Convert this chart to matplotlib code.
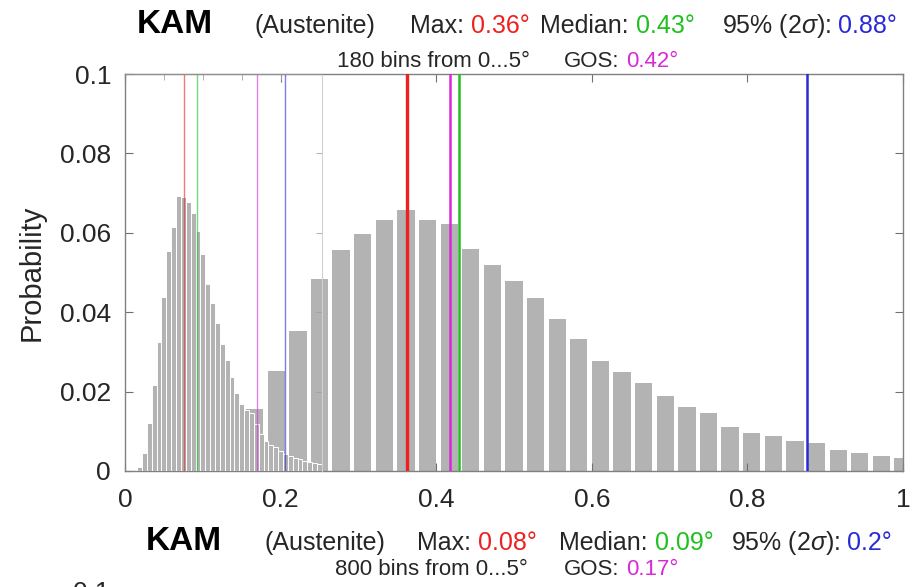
"""
KAM histogram (Austenite): 180-bin histogram with the 800-bin
histogram of the same map laid over its first 0.25 deg.
"""
import numpy as np
import matplotlib.pyplot as plt

# 180 bins from 0...5 deg, bin centres k*5/180
wide_k = np.arange(0, 37)
wide_prob = [0.0, 0.0, 0.0003, 0.0015, 0.004, 0.008, 0.0157, 0.0252, 0.0352,
             0.0484, 0.0557, 0.0597, 0.0631, 0.0657, 0.0631, 0.0621, 0.0558,
             0.0520, 0.0479, 0.0437, 0.0382, 0.0333, 0.0278, 0.0249, 0.0221,
             0.0190, 0.0160, 0.0145, 0.0112, 0.0095, 0.0088, 0.0076, 0.0071,
             0.0053, 0.0045, 0.0039, 0.0034]

# 800 bins from 0...5 deg, bin centres k*5/800 (only 0...0.25 is shown)
narrow_k = np.arange(3, 41)
narrow_prob = [0.0009, 0.0046, 0.0122, 0.0217, 0.0326, 0.0439, 0.0555, 0.0615,
               0.0693, 0.0689, 0.0678, 0.0649, 0.0605, 0.0547, 0.0470, 0.0424,
               0.0372, 0.0321, 0.0280, 0.0238, 0.0197, 0.0169, 0.0154, 0.0145,
               0.0118, 0.0093, 0.0075, 0.0065, 0.0060, 0.0050, 0.0044, 0.0038,
               0.0034, 0.0029, 0.0026, 0.0023, 0.0020, 0.0018]

# statistics markers: Max, GOS, Median, 95%
wide_stats = [0.362, 0.418, 0.429, 0.877]
narrow_stats = [0.076, 0.170, 0.092, 0.206]
stat_colors = ['#ee2020', '#d62ad6', '#20c020', '#2a2ad8']

# title texts: Max, Median, 95%, GOS
wide_vals = ['0.36°', '0.43°', '0.88°', '0.42°']
narrow_vals = ['0.08°', '0.09°', '0.2°', '0.17°']

# Set up fonts
plt.rcParams['font.family'] = ['Liberation Sans', 'DejaVu Sans']
plt.rcParams['mathtext.fontset'] = 'custom'
plt.rcParams['mathtext.rm'] = 'Liberation Sans'
plt.rcParams['mathtext.it'] = 'Liberation Sans:italic'

W, H = 914, 587
fig = plt.figure(figsize=(W / 100, H / 100), dpi=100, facecolor='white')
ax = fig.add_axes([125 / W, 1 - 471 / H, 778 / W, 397 / H])

bar_col = '#b3b3b3'
bw = 5 / 180
ax.bar(wide_k * bw, wide_prob, width=0.8 * bw, color=bar_col, zorder=1)
for x, c, lw in zip(wide_stats, stat_colors, [2.4, 1.8, 1.8, 1.8]):
    ax.axvline(x, color=c, lw=lw, zorder=3)

ax.set_xlim(0, 1)
ax.set_ylim(0, 0.1)
ax.set_xticks([0, 0.2, 0.4, 0.6, 0.8, 1])
ax.set_xticklabels(['0', '0.2', '0.4', '0.6', '0.8', '1'])
ax.set_yticks([0, 0.02, 0.04, 0.06, 0.08, 0.1])
ax.set_yticklabels(['0', '0.02', '0.04', '0.06', '0.08', '0.1'])
ax.tick_params(direction='in', top=True, right=True, length=6, width=0.8,
               color='#707070', labelcolor='#262626', labelsize=19, pad=12)
ax.tick_params(axis='y', pad=10)
for s in ax.spines.values():
    s.set_color('#808080')
    s.set_linewidth(1.0)
ax.set_ylabel('Probability', fontsize=21, color='#262626', labelpad=10)

# overlaid 800-bin plot
edge = 0.2528
ov = ax.inset_axes([0, 0, edge, 1])
ov.set_facecolor('none')
nw = 5 / 800
ov.bar(narrow_k * nw, narrow_prob, width=nw, color=bar_col,
       edgecolor='white', linewidth=0.7)
for x, c in zip(narrow_stats, stat_colors):
    ov.axvline(x, color=c, lw=1.0, alpha=0.6)
ov.set_xlim(0, edge)
ov.set_ylim(0, 0.1)
ov.set_xticks([0.05, 0.1, 0.15, 0.2])
ov.set_yticks([0.02, 0.04, 0.06, 0.08])
ov.tick_params(direction='in', top=True, right=True, bottom=False, left=False,
               length=4, width=0.6, color='#a0a0a0',
               labelbottom=False, labelleft=False)
ov.spines['left'].set_visible(False)
ov.spines['bottom'].set_visible(False)
ov.spines['top'].set_color('#909090')
ov.spines['right'].set_color('#d0d0d0')
ov.spines['right'].set_linewidth(0.8)

renderer = fig.canvas.get_renderer()


def put(x, y, s, color='#262626', size=18, weight='normal', va='baseline',
        ha='left'):
    return fig.text(x / W, 1 - y / H, s, color=color, fontsize=size,
                    fontweight=weight, va=va, ha=ha)


def chain(x, y, pieces, size=18):
    # label followed by its coloured value, one space apart
    for s, c in pieces:
        t = put(x, y, s, color=c, size=size)
        x = t.get_window_extent(renderer).x1 + 0.28 * size * 100 / 72


def title_block(y1, y2, xs, vals, bins):
    put(xs[0], y1, 'KAM', size=24, weight='bold', color='black')
    put(xs[1], y1, '(Austenite)')
    chain(xs[2], y1, [('Max:', '#262626'), (vals[0], stat_colors[0])])
    chain(xs[3], y1, [('Median:', '#262626'), (vals[1], stat_colors[2])])
    chain(xs[4], y1, [(r'95% (2$\sigma$):', '#262626'),
                      (vals[2], stat_colors[3])])
    put(xs[5], y2, bins, size=16)
    chain(xs[6], y2, [('GOS:', '#262626'), (vals[3], stat_colors[1])],
          size=16)


title_block(33, 67, [137, 255, 410, 540, 722, 337, 564],
            wide_vals, '180 bins from 0...5°')
title_block(550, 575, [146, 265, 417, 559, 731, 335, 564],
            narrow_vals, '800 bins from 0...5°')
# top of the next panel's y tick label
put(110, 581, '0.1', size=19, va='top', ha='right')

plt.savefig('out.png', dpi=100, facecolor='white')
